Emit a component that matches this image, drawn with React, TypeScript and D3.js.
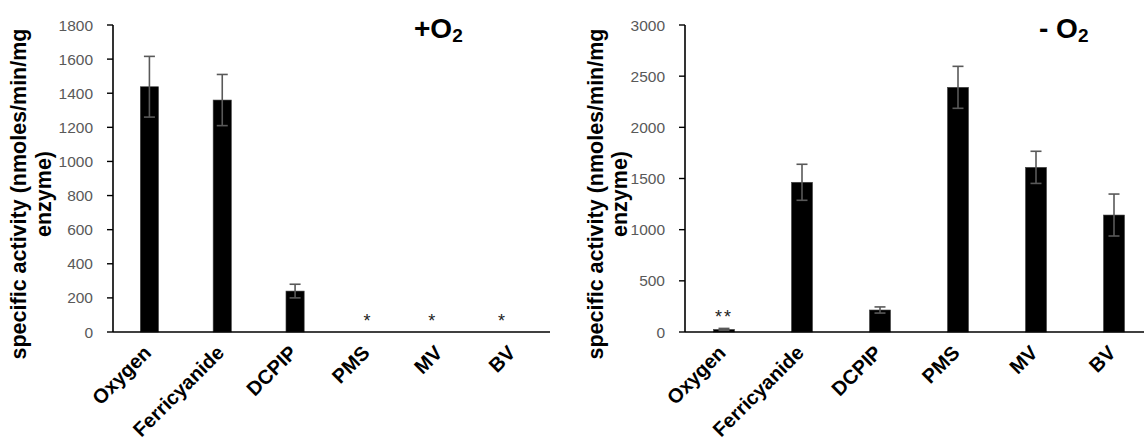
import React from "react";
import * as d3 from "d3";

const categories = ["Oxygen", "Ferricyanide", "DCPIP", "PMS", "MV", "BV"];

// +O2 panel
const plusValues = [1438, 1360, 240, 0, 0, 0];
const plusErrors = [178, 150, 40, 0, 0, 0];
const plusTicks = [0, 200, 400, 600, 800, 1000, 1200, 1400, 1600, 1800];
const plusMarks = ["", "", "", "*", "*", "*"];
const plusMarkDx = [0, 0, 0, 0, -8, -11];

// -O2 panel
const minusValues = [25, 1463, 215, 2391, 1609, 1143];
const minusErrors = [10, 176, 30, 205, 157, 205];
const minusTicks = [0, 500, 1000, 1500, 2000, 2500, 3000];
const minusMarks = ["**", "", "", "", "", ""];
const minusMarkDx = [0, 0, 0, 0, 0, 0];

const FONT = "'Liberation Sans', Arial, Helvetica, sans-serif";
const GRAY = "#595959";

type PanelProps = {
  values: number[];
  errors: number[];
  ticks: number[];
  maxY: number;
  x0: number;
  x1: number;
  padInner: number;
  padOuter: number;
  marks: string[];
  markDx: number[];
  titleMain: string;
  titleX: number;
  labelX1: number;
  labelX2: number;
  tickFont: number;
};

function Panel(p: PanelProps) {
  const yTop = 25;
  const yBot = 332;
  const y = d3.scaleLinear().domain([0, p.maxY]).range([yBot, yTop]);
  const x = d3
    .scaleBand<string>()
    .domain(categories)
    .range([p.x0, p.x1])
    .paddingInner(p.padInner)
    .paddingOuter(p.padOuter);
  const bw = x.bandwidth();
  const capW = 11;
  const axisEnd = Math.min(p.x1, 1144);
  const titleMidY = 194;
  return (
    <g fontFamily={FONT}>
      {/* bars */}
      {categories.map((c, i) =>
        p.values[i] > 0 ? (
          <rect
            key={"b" + c}
            x={x(c)}
            y={y(p.values[i])}
            width={bw}
            height={yBot - y(p.values[i])}
            fill="#000"
            stroke="#444"
            strokeWidth={0.6}
          />
        ) : null
      )}
      {/* error bars */}
      {categories.map((c, i) => {
        if (!(p.values[i] > 0) || !(p.errors[i] > 0)) return null;
        const cx = (x(c) as number) + bw / 2;
        const hi = y(p.values[i] + p.errors[i]);
        const lo = y(p.values[i] - p.errors[i]);
        return (
          <g key={"e" + c} stroke={GRAY} strokeWidth={1.6}>
            <line x1={cx} x2={cx} y1={hi} y2={lo} />
            <line x1={cx - capW / 2} x2={cx + capW / 2} y1={hi} y2={hi} />
            <line x1={cx - capW / 2} x2={cx + capW / 2} y1={lo} y2={lo} />
          </g>
        );
      })}
      {/* asterisks */}
      {categories.map((c, i) =>
        p.marks[i] ? (
          <text
            key={"m" + c}
            x={(x(c) as number) + bw / 2 + p.markDx[i]}
            y={y(p.values[i] + p.errors[i]) - 5}
            textAnchor="middle"
            fontSize={18}
            letterSpacing={2}
            fill="#222"
          >
            {p.marks[i]}
          </text>
        ) : null
      )}
      {/* axes */}
      <line x1={p.x0} x2={axisEnd} y1={yBot} y2={yBot} stroke="#000" strokeWidth={1.6} />
      <line x1={p.x0} x2={p.x0} y1={yTop} y2={yBot} stroke="#000" strokeWidth={1.6} />
      {p.ticks.map((t) => (
        <g key={"t" + t}>
          <line x1={p.x0 - 6} x2={p.x0} y1={y(t)} y2={y(t)} stroke="#000" strokeWidth={1.4} />
          <text
            x={p.x0 - 20}
            y={y(t)}
            dy="0.36em"
            textAnchor="end"
            fontSize={p.tickFont}
            fill={GRAY}
          >
            {t}
          </text>
        </g>
      ))}
      {/* category labels */}
      {categories.map((c) => {
        const lx = (x(c) as number) + bw / 2 + 3;
        const ly = yBot + 22;
        return (
          <text
            key={"c" + c}
            x={lx}
            y={ly}
            transform={`rotate(-45 ${lx} ${ly})`}
            textAnchor="end"
            fontSize={20}
            fontWeight="bold"
            fill="#000"
          >
            {c}
          </text>
        );
      })}
      {/* y axis title */}
      <text
        x={p.labelX1}
        y={titleMidY}
        transform={`rotate(-90 ${p.labelX1} ${titleMidY})`}
        textAnchor="middle"
        fontSize={21.5}
        fontWeight="bold"
        fill="#000"
      >
        specific activity (nmoles/min/mg
      </text>
      <text
        x={p.labelX2}
        y={titleMidY}
        transform={`rotate(-90 ${p.labelX2} ${titleMidY})`}
        textAnchor="middle"
        fontSize={21.5}
        fontWeight="bold"
        fill="#000"
      >
        enzyme)
      </text>
      {/* panel title */}
      <text x={p.titleX} y={38} fontSize={28} fontWeight="bold" fill="#000">
        {p.titleMain}
        <tspan fontSize={19} dy={4}>
          2
        </tspan>
      </text>
    </g>
  );
}

export default function App() {
  return (
    <svg
      width={1144}
      height={443}
      style={{ position: "absolute", left: 0, top: 0, background: "#fff" }}
    >
      <rect x={0} y={0} width={1144} height={443} fill="#fff" />
      <Panel
        values={plusValues}
        errors={plusErrors}
        ticks={plusTicks}
        maxY={1800}
        x0={113}
        x1={550}
        padInner={0.75}
        padOuter={0.375}
        marks={plusMarks}
        markDx={plusMarkDx}
        titleMain="+O"
        titleX={414}
        labelX1={26}
        labelX2={51}
        tickFont={15.5}
      />
      <Panel
        values={minusValues}
        errors={minusErrors}
        ticks={minusTicks}
        maxY={3000}
        x0={685}
        x1={1153}
        padInner={0.73}
        padOuter={0.365}
        marks={minusMarks}
        markDx={minusMarkDx}
        titleMain="- O"
        titleX={1039}
        labelX1={603}
        labelX2={627}
        tickFont={15.5}
      />
    </svg>
  );
}
